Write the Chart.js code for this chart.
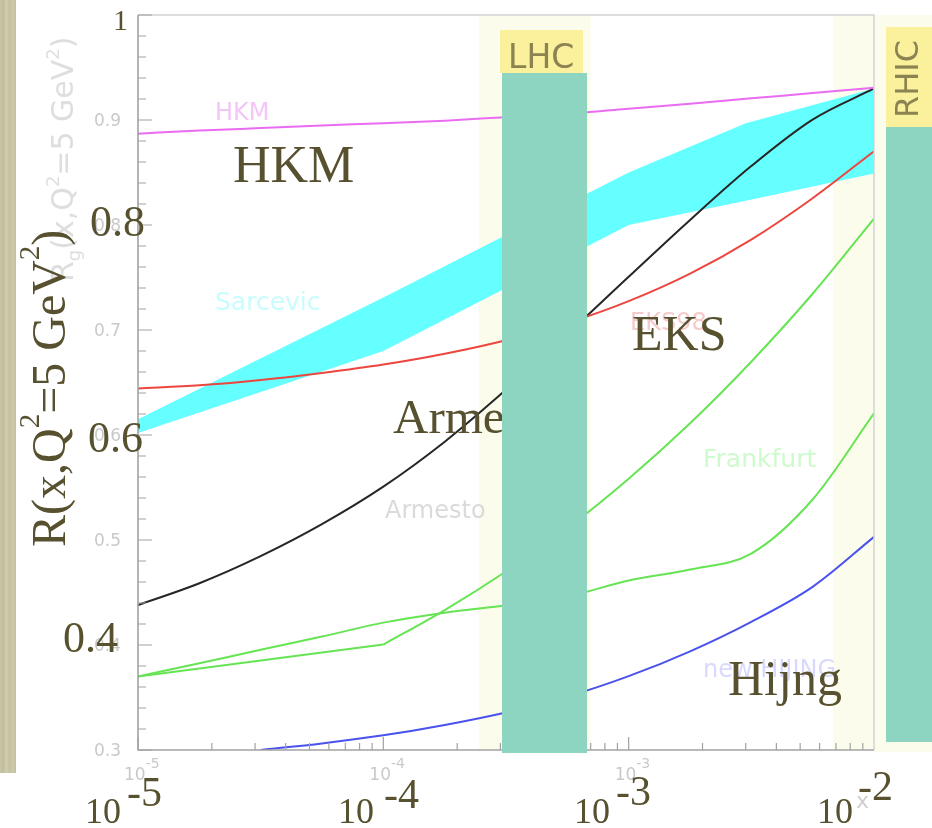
<!DOCTYPE html>
<html>
<head>
<meta charset="utf-8">
<script src="https://cdn.jsdelivr.net/npm/chart.js@4.4.0/dist/chart.umd.min.js"></script>
<style>
body{margin:0;background:#fff;}
canvas{display:block;}
</style>
</head>
<body>
<canvas id="c" width="932" height="828"></canvas>
<script>
// x grid shared by the model curves (quarter decades, 1e-5 .. 1e-2)
const xGrid = [1e-5, 1.78e-5, 3.16e-5, 5.62e-5, 1e-4, 1.78e-4, 3.16e-4, 5.62e-4, 1e-3, 1.78e-3, 3.16e-3, 5.62e-3, 1e-2];
const hkm     = [0.887, 0.8899, 0.8923, 0.8947, 0.897, 0.8994, 0.9027, 0.906, 0.9106, 0.9155, 0.9206, 0.9256, 0.9307];
const eks98   = [0.6444, 0.6473, 0.6524, 0.6591, 0.6671, 0.6774, 0.6903, 0.7066, 0.7275, 0.7537, 0.7861, 0.8255, 0.8703];
const armesto = [0.438, 0.4588, 0.4846, 0.5151, 0.5508, 0.5936, 0.643, 0.696, 0.7507, 0.8048, 0.8561, 0.9004, 0.930];
const frankB  = [0.370, 0.3826, 0.3954, 0.408, 0.4213, 0.4308, 0.4379, 0.4461, 0.4614, 0.4719, 0.4871, 0.5386, 0.6206];
const hijing  = [null, null, 0.300, 0.3063, 0.314, 0.3239, 0.3358, 0.3508, 0.3703, 0.394, 0.4221, 0.4554, 0.503];
// Frankfurt (second curve): straight up to 1e-4, then bends up
const frankAx1 = [1e-5, 1e-4];
const frankAy1 = [0.370, 0.4004];
const frankAx2 = [1e-4, 1.78e-4, 3.16e-4, 5.62e-4, 1e-3, 1.78e-3, 3.16e-3, 5.62e-3, 1e-2];
const frankAy2 = [0.4004, 0.4333, 0.470, 0.5111, 0.5584, 0.6112, 0.6698, 0.7345, 0.806];
// Sarcevic band
const sarcX  = [1e-5, 1e-4, 1e-3, 3e-3, 1e-2];
const sarcHi = [0.615, 0.731, 0.850, 0.897, 0.930];
const sarcLo = [0.602, 0.680, 0.800, 0.823, 0.849];
// x ranges of the LHC / RHIC shading
const lhcRange  = [2.45e-4, 7.0e-4];
const rhicRange = [6.8e-3, 1e-2];
const yTicks = [0.3, 0.4, 0.5, 0.6, 0.7, 0.8, 0.9];

const pts = (xs, ys) => xs.map((v, i) => ({x: v, y: ys[i]})).filter(p => p.y !== null);

const INK = '#57512f';
const SERIF = '"Liberation Serif", "DejaVu Serif", serif';
const SANS = '"DejaVu Sans", sans-serif';

function rich(ctx, x, y, parts) {
  parts.forEach(p => {
    ctx.font = p.size + 'px ' + (p.fam || SERIF);
    ctx.fillText(p.t, x, y + (p.dy || 0));
    x += ctx.measureText(p.t).width;
  });
}

function text(ctx, t, x, y, size, color, fam) {
  ctx.font = size + 'px ' + (fam || SERIF);
  ctx.fillStyle = color;
  ctx.fillText(t, x, y);
}

const overlay = {
  id: 'overlay',
  beforeDraw(chart) {
    const {ctx, chartArea: a, scales: {x}} = chart;
    ctx.save();
    ctx.fillStyle = '#fff';
    ctx.fillRect(0, 0, chart.width, chart.height);
    const g = ctx.createLinearGradient(0, 0, 16, 0);
    g.addColorStop(0, '#c9c6a6'); g.addColorStop(0.2, '#c0bd9c'); g.addColorStop(0.4, '#d0cdae');
    g.addColorStop(0.6, '#c4c1a0'); g.addColorStop(0.8, '#cdcaaa'); g.addColorStop(1, '#c3c0a0');
    ctx.fillStyle = g;
    ctx.fillRect(0, 0, 16, 773);
    ctx.fillStyle = '#fcfcec';
    [lhcRange, rhicRange].forEach(r => {
      const x0 = x.getPixelForValue(r[0]), x1 = x.getPixelForValue(r[1]);
      ctx.fillRect(x0, a.top, x1 - x0, a.bottom - a.top);
    });
    ctx.fillRect(a.right, a.top, chart.width - a.right, 737);
    ctx.restore();
  },
  afterDatasetsDraw(chart) {
    const {ctx, chartArea: a, scales: {x, y}} = chart;
    ctx.save();
    ctx.strokeStyle = '#d2d2d2'; ctx.lineWidth = 1.5;
    ctx.beginPath();
    ctx.moveTo(a.left, a.top); ctx.lineTo(a.right, a.top); ctx.lineTo(a.right, a.bottom);
    ctx.stroke();
    ctx.strokeStyle = '#a2a2a2'; ctx.lineWidth = 1.6;
    ctx.beginPath();
    ctx.moveTo(a.left, a.top); ctx.lineTo(a.left, a.bottom); ctx.lineTo(a.right, a.bottom);
    ctx.stroke();
    ctx.lineWidth = 1.2;
    ctx.beginPath();
    for (let i = 15; i <= 50; i++) {
      const py = y.getPixelForValue(i / 50);
      ctx.moveTo(a.left, py); ctx.lineTo(a.left + (i % 5 === 0 ? 14 : 8), py);
    }
    for (let e = -5; e <= -3; e++) {
      for (let m = 1; m <= 9; m++) {
        const px = x.getPixelForValue(m * Math.pow(10, e));
        ctx.moveTo(px, a.bottom); ctx.lineTo(px, a.bottom - (m === 1 ? 13 : 7));
      }
    }
    ctx.stroke();
    ctx.restore();
  },
  afterDraw(chart) {
    const {ctx, scales: {x, y}} = chart;
    ctx.save();
    ctx.textBaseline = 'alphabetic';
    // faint labels of the original plot
    ctx.fillStyle = '#c9c9c9';
    ctx.font = '17px ' + SANS;
    ctx.textAlign = 'right';
    yTicks.forEach(v => ctx.fillText(v.toFixed(1), 121, y.getPixelForValue(v) + 6));
    ctx.textAlign = 'left';
    [-5, -4, -3].forEach(e => {
      const px = x.getPixelForValue(Math.pow(10, e));
      rich(ctx, px - 14, 780, [{t: '10', size: 17, fam: SANS}, {t: String(e), size: 14, dy: -12, fam: SANS}]);
    });
    text(ctx, 'x', 856, 808, 22, '#cfcfcf', SANS);
    ctx.save();
    ctx.translate(73, 282); ctx.rotate(-Math.PI / 2);
    ctx.fillStyle = '#dedede';
    rich(ctx, 0, 0, [{t: 'R', size: 30, fam: SANS}, {t: 'g', size: 18, dy: 7, fam: SANS},
      {t: '(x,Q', size: 30, fam: SANS}, {t: '2', size: 18, dy: -14, fam: SANS},
      {t: '=5 GeV', size: 30, fam: SANS}, {t: '2', size: 18, dy: -14, fam: SANS}, {t: ')', size: 30, fam: SANS}]);
    ctx.restore();
    text(ctx, 'HKM', 215, 120, 24, '#f3c6f7', SANS);
    text(ctx, 'Sarcevic', 215, 310, 25, '#c9fdfd', SANS);
    text(ctx, 'Armesto', 385, 518, 24, '#dadada', SANS);
    text(ctx, 'EKS98', 630, 330, 24, '#f6caca', SANS);
    text(ctx, 'Frankfurt', 703, 467, 25, '#cdfbcd', SANS);
    text(ctx, 'new HIJING', 703, 677, 24, '#d9d9fb', SANS);

    // big overlay labels
    ctx.fillStyle = INK;
    text(ctx, '1', 113, 30, 30, INK);
    text(ctx, '0.8', 90, 236, 44, INK);
    text(ctx, '0.6', 88, 452, 44, INK);
    text(ctx, '0.4', 63, 652, 44, INK);
    ctx.save();
    ctx.translate(65, 547); ctx.rotate(-Math.PI / 2);
    rich(ctx, 0, 0, [{t: 'R(x,Q', size: 48}, {t: '2', size: 29, dy: -26}, {t: '=5 GeV', size: 48},
      {t: '2', size: 29, dy: -26}, {t: ')', size: 48}]);
    ctx.restore();
    text(ctx, 'HKM', 233, 182, 52, INK);
    text(ctx, 'Armesto', 393, 433, 49, INK);
    text(ctx, 'EKS', 632, 350, 50, INK);
    text(ctx, 'Hijng', 728, 695, 50, INK);
    rich(ctx, 85, 823, [{t: '10', size: 36}]);  rich(ctx, 127, 806, [{t: '-5', size: 42}]);
    rich(ctx, 338, 823, [{t: '10', size: 36}]); rich(ctx, 384, 808, [{t: '-4', size: 42}]);
    rich(ctx, 574, 823, [{t: '10', size: 36}]); rich(ctx, 616, 805, [{t: '-3', size: 42}]);
    rich(ctx, 817, 823, [{t: '10', size: 36}]); rich(ctx, 858, 800, [{t: '-2', size: 42}]);

    // LHC / RHIC tags and the covering blocks
    ctx.fillStyle = '#fbf09c';
    ctx.fillRect(500, 30, 83, 43);
    ctx.fillRect(886, 27, 46, 100);
    ctx.fillStyle = '#8c8352';
    ctx.font = '33px ' + SANS;
    ctx.fillText('LHC', 508, 68);
    ctx.save();
    ctx.translate(918, 118); ctx.rotate(-Math.PI / 2);
    ctx.font = '32px ' + SANS;
    ctx.fillText('RHIC', 0, 0);
    ctx.restore();
    ctx.fillStyle = '#8dd5c1';
    ctx.fillRect(502, 73, 85, 680);
    ctx.fillRect(886, 127, 46, 615);
    ctx.restore();
  }
};

const line = (label, data, color, extra) => Object.assign({
  label, data, borderColor: color, borderWidth: 2, pointRadius: 0,
  cubicInterpolationMode: 'monotone', fill: false, order: 1
}, extra || {});

new Chart(document.getElementById('c'), {
  type: 'line',
  data: {
    datasets: [
      line('HKM', pts(xGrid, hkm), '#ea6cf2'),
      line('EKS98', pts(xGrid, eks98), '#ec463e'),
      line('Armesto', pts(xGrid, armesto), '#262626'),
      line('Frankfurt', pts(frankAx1, frankAy1), '#66e454', {tension: 0, cubicInterpolationMode: 'default'}),
      line('Frankfurt 2', pts(frankAx2, frankAy2), '#66e454'),
      line('Frankfurt 3', pts(xGrid, frankB), '#66e454'),
      line('new HIJING', pts(xGrid, hijing), '#4a52ee'),
      line('Sarcevic hi', pts(sarcX, sarcHi), 'rgba(0,0,0,0)',
        {borderWidth: 0, tension: 0, cubicInterpolationMode: 'default', fill: '+1', backgroundColor: '#66ffff', order: 10}),
      line('Sarcevic lo', pts(sarcX, sarcLo), 'rgba(0,0,0,0)',
        {borderWidth: 0, tension: 0, cubicInterpolationMode: 'default', order: 11})
    ]
  },
  options: {
    responsive: false,
    animation: false,
    events: [],
    layout: {padding: {left: 138, top: 15, right: 58, bottom: 78}},
    plugins: {legend: {display: false}, tooltip: {enabled: false}},
    scales: {
      x: {type: 'logarithmic', min: 1e-5, max: 1e-2, display: false},
      y: {type: 'linear', min: 0.3, max: 1.0, display: false}
    }
  },
  plugins: [overlay]
});
</script>
</body>
</html>
